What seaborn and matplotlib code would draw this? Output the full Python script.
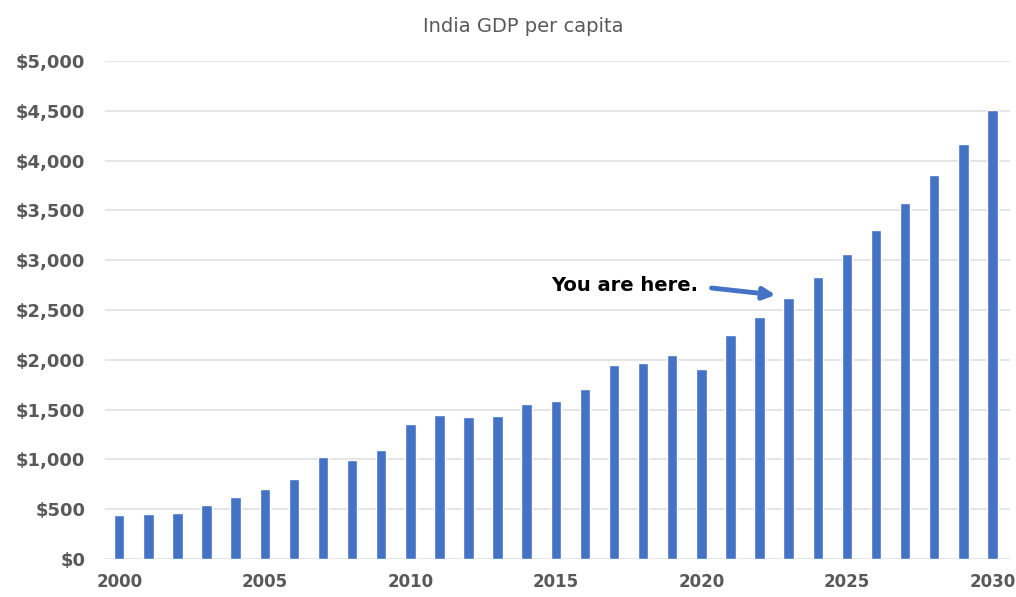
import matplotlib
matplotlib.use("Agg")
import matplotlib.pyplot as plt
import seaborn as sns
import numpy as np

# India GDP per capita (USD), actuals and projections
years = list(range(2000, 2031))
gdp_per_capita = [441, 448, 465, 542, 622, 705, 800, 1020, 990, 1093,
                  1350, 1444, 1428, 1431, 1555, 1585, 1705, 1949, 1963, 2043,
                  1903, 2247, 2427, 2615, 2832, 3063, 3304, 3569, 3852, 4163,
                  4505]
y_ticks = list(range(0, 5001, 500))
x_tick_years = [2000, 2005, 2010, 2015, 2020, 2025, 2030]

sns.set_theme(style="white")
plt.rcParams["font.family"] = ["DejaVu Sans"]

bar_color = "#4472C4"
label_color = "#595959"

fig = plt.figure(figsize=(10.16, 5.97), dpi=100)
ax = fig.add_axes([0.103, 0.0637, 0.891, 0.8343])

sns.barplot(x=[str(y) for y in years], y=gdp_per_capita, color=bar_color,
            width=0.36, saturation=1, ax=ax)

ax.set_ylim(0, 5000)
ax.set_xlim(-0.5, 30.6)
ax.set_yticks(y_ticks)
ax.set_yticklabels([f"${v:,}" for v in y_ticks], fontsize=13,
                   fontweight="bold", color=label_color)
ax.set_xticks([years.index(y) for y in x_tick_years])
ax.set_xticklabels([str(y) for y in x_tick_years], fontsize=12,
                   fontweight="bold", color=label_color)
ax.tick_params(axis="both", length=0)
ax.tick_params(axis="y", pad=14)
ax.tick_params(axis="x", pad=10)
ax.yaxis.grid(True, color="#E0E0E0", linewidth=1.2)
ax.set_axisbelow(True)
for s in ax.spines.values():
    s.set_visible(False)
ax.set_xlabel("")
ax.set_ylabel("")

fig.text(0.515, 0.955, "India GDP per capita", ha="center", va="center",
         fontsize=14, color=label_color)

ax.text(17.35, 2750, "You are here.", ha="center", va="center",
        fontsize=14, fontweight="bold", color="black")
ax.annotate("", xy=(22.55, 2650), xytext=(20.35, 2720),
            arrowprops=dict(arrowstyle="-|>,head_length=0.6,head_width=0.3",
                            color=bar_color, linewidth=3.5,
                            shrinkA=0, shrinkB=0))

fig.savefig("out.png", dpi=100, facecolor="white")
